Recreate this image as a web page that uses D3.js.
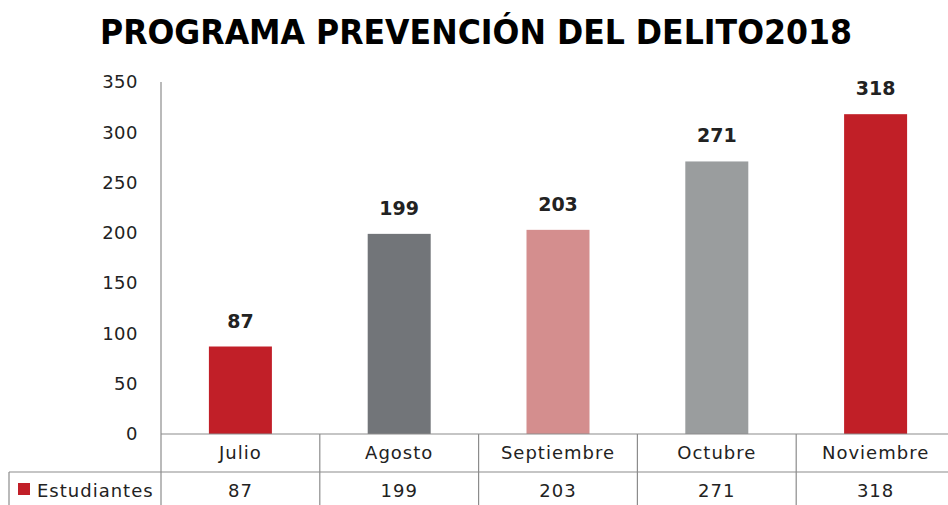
<!DOCTYPE html>
<html><head><meta charset="utf-8">
<script src="https://cdn.jsdelivr.net/npm/d3@7"></script>
<style>body{margin:0;background:#fff}svg{display:block}</style>
</head><body><svg id="c" width="948" height="505"></svg>
<script>
const categories = ["Julio","Agosto","Septiembre","Octubre","Noviembre"];
const values = [87,199,203,271,318];
const barColors = ["#C11F28","#727579","#D48E8E","#9A9D9E","#C11F27"];
const yTicks = [0,50,100,150,200,250,300,350];
const seriesName = "Estudiantes";
const title = "PROGRAMA PREVENCIÓN DEL DELITO2018";

const svg = d3.select("#c");
const font = "Tahoma, 'DejaVu Sans', Verdana, sans-serif";
const x0 = 161, catW = 158.8;
const x = d3.scaleBand().domain(categories).range([x0, x0 + catW*categories.length]).paddingInner(0).paddingOuter(0);
const y = d3.scaleLinear().domain([0,350]).range([434,82]);
const lineCol = "#8c8c8c";

svg.append("text").attr("x",476).attr("y",44).attr("text-anchor","middle")
  .attr("font-family",font).attr("font-weight","bold").attr("font-size",33)
  .attr("textLength",752).attr("lengthAdjust","spacingAndGlyphs").attr("fill","#000").text(title);

// y axis
const yAxis = d3.axisLeft(y).tickValues(yTicks).tickSize(0).tickPadding(23);
const ga = svg.append("g").attr("transform",`translate(${x0},0)`).call(yAxis);
ga.select(".domain").remove();
ga.selectAll("text").attr("font-family",font).attr("font-size",18).attr("letter-spacing",0.5).attr("fill","#222");

// bars
const bw = 63;
svg.selectAll("rect.bar").data(values).join("rect").attr("class","bar")
  .attr("x",(d,i)=>x(categories[i]) + x.bandwidth()/2 - bw/2)
  .attr("width",bw).attr("y",d=>y(d)).attr("height",d=>y(0)-y(d))
  .attr("fill",(d,i)=>barColors[i]);

svg.selectAll("text.lbl").data(values).join("text").attr("class","lbl")
  .attr("x",(d,i)=>x(categories[i]) + x.bandwidth()/2).attr("y",d=>y(d)-19)
  .attr("text-anchor","middle").attr("font-family",font).attr("font-weight","bold")
  .attr("font-size",19).attr("fill","#222").text(d=>d);

// axis/table lines
const g = svg.append("g").attr("stroke",lineCol).attr("stroke-width",1.2).attr("fill","none");
g.append("line").attr("x1",x0).attr("x2",x0).attr("y1",82).attr("y2",505);
g.append("line").attr("x1",x0).attr("x2",948).attr("y1",y(0)).attr("y2",y(0));
g.append("line").attr("x1",9).attr("x2",948).attr("y1",472).attr("y2",472);
g.append("line").attr("x1",9).attr("x2",9).attr("y1",472).attr("y2",505);
categories.slice(1).forEach(c=>{
  g.append("line").attr("x1",x(c)).attr("x2",x(c)).attr("y1",y(0)).attr("y2",505);
});

// category labels
svg.selectAll("text.cat").data(categories).join("text").attr("class","cat")
  .attr("x",d=>x(d)+x.bandwidth()/2).attr("y",459).attr("text-anchor","middle")
  .attr("font-family",font).attr("font-size",18).attr("letter-spacing",1).attr("fill","#222").text(d=>d);
// values row
svg.selectAll("text.val").data(values).join("text").attr("class","val")
  .attr("x",(d,i)=>x(categories[i])+x.bandwidth()/2).attr("y",497).attr("text-anchor","middle")
  .attr("font-family",font).attr("font-size",18).attr("letter-spacing",1).attr("fill","#222").text(d=>d);
svg.append("rect").attr("x",18).attr("y",483).attr("width",12).attr("height",12).attr("fill",barColors[0]);
svg.append("text").attr("x",37).attr("y",497).attr("font-family",font).attr("font-size",18).attr("letter-spacing",1).attr("fill","#222").text(seriesName);
</script></body></html>
